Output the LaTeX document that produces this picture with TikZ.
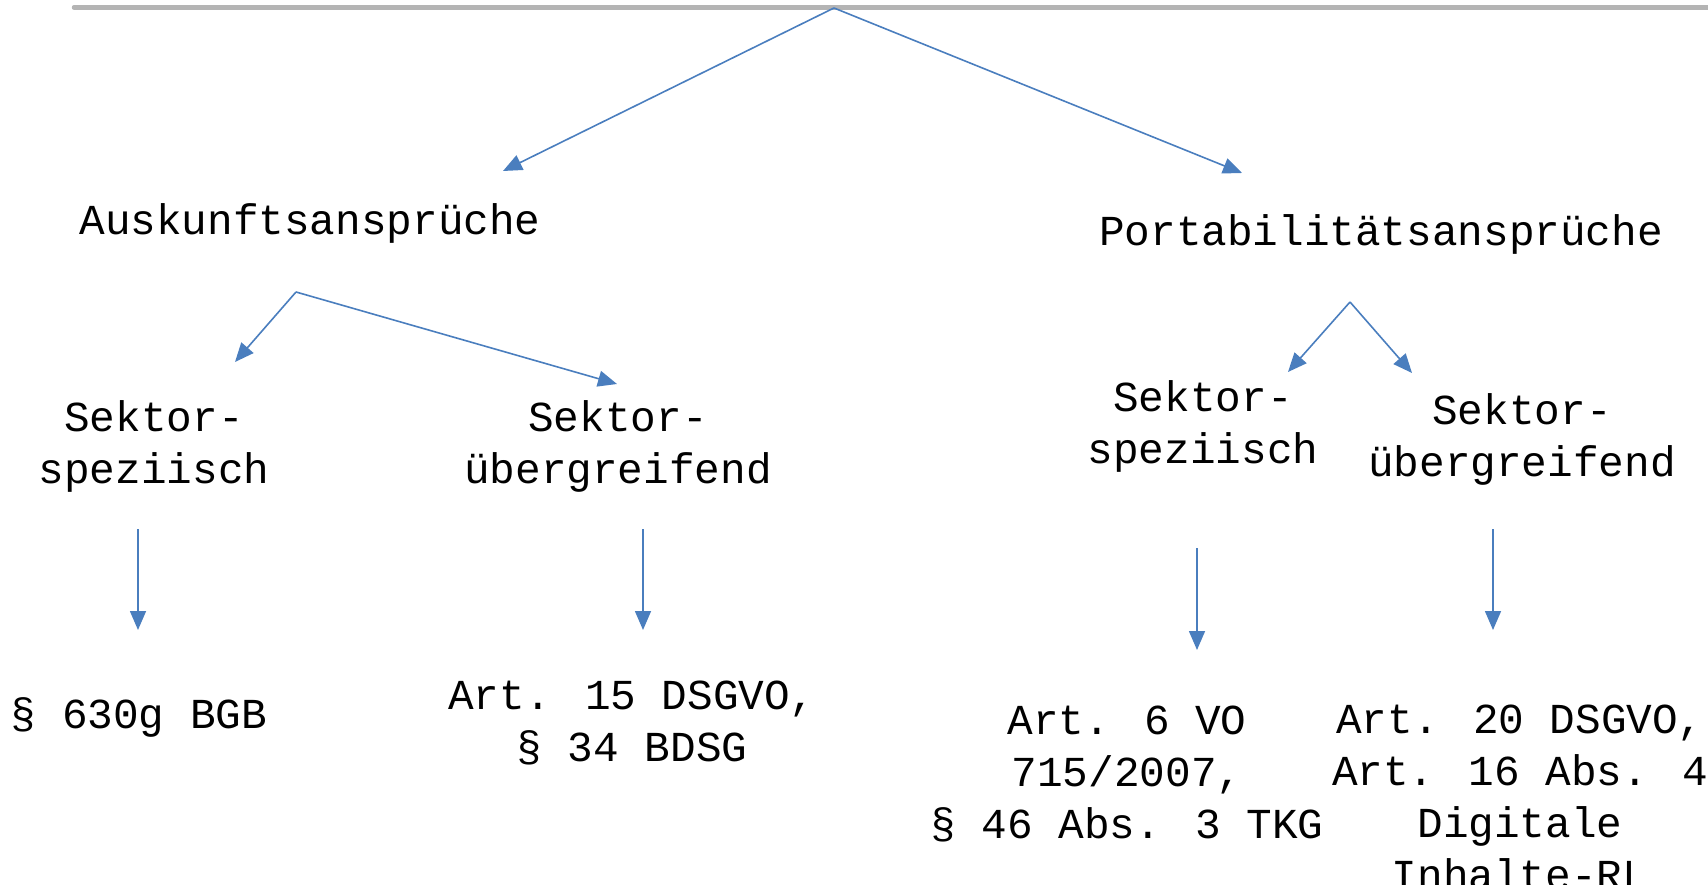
\documentclass[tikz,border=0pt]{standalone}
\usepackage{fontspec}
\setmainfont{Liberation Mono}
\usetikzlibrary{arrows.meta}
\definecolor{arrowblue}{RGB}{74,126,190}
\definecolor{rulegray}{RGB}{180,180,180}
\tikzset{
  lbl/.style={font=\fontsize{42.7}{52}\selectfont, align=center, inner sep=0pt, text=black},
  conn/.style={draw=arrowblue, line width=1.6pt, -{Triangle[length=19pt,width=16pt]}},
}
\begin{document}
\begin{tikzpicture}[x=1pt,y=-1pt]
\useasboundingbox (0,0) rectangle (1708,885);
\coordinate (rl) at (74,7.5);
\coordinate (rr) at (1708,7.5);
\draw[rulegray, line width=4.5pt, line cap=round] (rl) -- (rr);

% apexes
\coordinate (top) at (834,8);
\coordinate (ltop) at (296,292);
\coordinate (rtop) at (1350,302);

% arrow tips
\coordinate (tA) at (503,171);
\coordinate (tP) at (1242,173);
\coordinate (tLS) at (235,362);
\coordinate (tLU) at (617,384);
\coordinate (tRS) at (1288,372);
\coordinate (tRU) at (1412,373);

% text nodes
\node[lbl] (ausk) at (310,223) {Auskunftsansprüche};
\node[lbl] (port) at (1381,234) {Portabilitätsansprüche};
\node[lbl] (lsek) at (154,446) {Sektor-\\speziisch};
\node[lbl] (lueb) at (618,446) {Sektor-\\übergreifend};
\node[lbl] (rsek) at (1203,426) {Sektor-\\speziisch};
\node[lbl] (rueb) at (1522,439) {Sektor-\\übergreifend};
\node[lbl] (bgb) at (139,717) {§ 630g BGB};
\node[lbl] (dsgvo) at (632,723) {Art. 15 DSGVO,\\§ 34 BDSG};
\node[lbl] (vo) at (1127,774) {Art. 6 VO\\715/2007,\\§ 46 Abs. 3 TKG};
\node[lbl] (dig) at (1520,797) {Art. 20 DSGVO,\\Art. 16 Abs. 4\\Digitale\\Inhalte-RL};

% vertical arrow anchors
\coordinate (v1s) at (138,529); \coordinate (v1e) at (138,630);
\coordinate (v2s) at (643,529); \coordinate (v2e) at (643,630);
\coordinate (v3s) at (1197,548); \coordinate (v3e) at (1197,650);
\coordinate (v4s) at (1493,529); \coordinate (v4e) at (1493,630);

\draw[conn] (top) -- (tA);
\draw[conn] (top) -- (tP);
\draw[conn] (ltop) -- (tLS);
\draw[conn] (ltop) -- (tLU);
\draw[conn] (rtop) -- (tRS);
\draw[conn] (rtop) -- (tRU);
\draw[conn] (v1s) -- (v1e);
\draw[conn] (v2s) -- (v2e);
\draw[conn] (v3s) -- (v3e);
\draw[conn] (v4s) -- (v4e);
\end{tikzpicture}
\end{document}
